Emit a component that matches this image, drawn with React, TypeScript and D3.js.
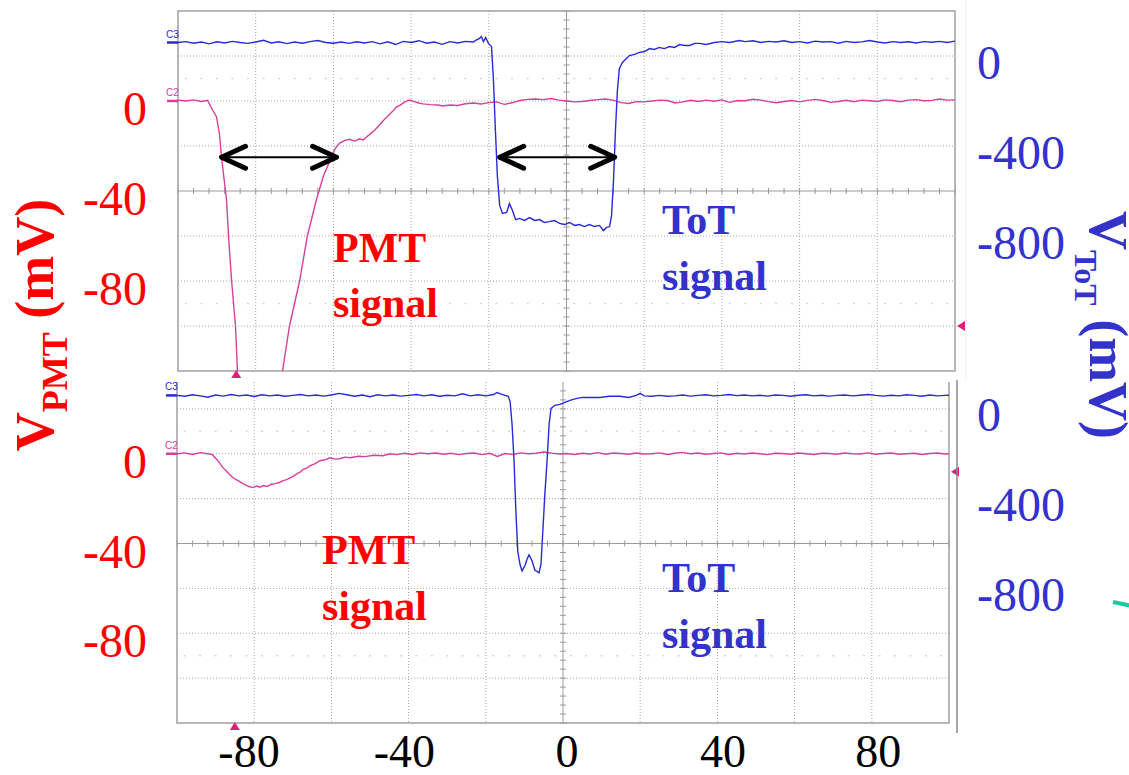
import React from "react";
import * as d3 from "d3";

type P = [number, number];

// time axis (ns) tick labels and voltage tick labels
const timeTicks = [-80, -40, 0, 40, 80];
const pmtTicks = [0, -40, -80];
const totTicks = [0, -400, -800];

// Top panel: PMT signal (mV) vs time (ns)
const topPmt: P[] = [
  [-100, 0.4], [-98, 0], [-96, 0.5], [-94, -0.2], [-92.4, 0.3], [-91.1, -4], [-90.1, -7], [-89.3, -15],
  [-88.8, -25], [-87.5, -44], [-87.0, -60], [-86.2, -80], [-85.2, -100], [-84.7, -120], [-84, -135],
  [-80, -150], [-76, -148], [-73.1, -120], [-71.3, -100], [-68.7, -80], [-66.7, -60], [-64.4, -44],
  [-62.5, -33], [-60.5, -25], [-59.5, -21], [-58.4, -18.7], [-57, -17.5], [-55.9, -17], [-54.5, -17.8],
  [-53.3, -16.8], [-52.3, -17.3], [-51.5, -16], [-50.4, -14.5], [-49.4, -13], [-48.3, -11], [-47.3, -9],
  [-46.5, -7.5], [-45.6, -6], [-44.7, -4.5], [-43.8, -2.7], [-42.8, -1.8], [-41.7, -0.5], [-40.8, 0.3],
  [-40.2, 0.4], [-39, -0.4], [-38, -0.9], [-37, -1.3], [-35, -1.6], [-33, -1.8], [-31.9, -2.2], [-30, -1.8],
  [-28, -2], [-26, -1.2], [-24, -0.9], [-22, -1.3], [-20, -0.7], [-18, -0.4], [-16, -1.5], [-14, -0.8],
  [-12, 0.2], [-10, 0.7], [-8, 0.9], [-6, 0.6], [-4, 1.1], [-2, 0.4], [0, 0], [2, -0.4], [4, -0.2], [6, 0.2],
  [8, 0.6], [10, 0.9], [12, 0.4], [14, -0.7], [16, -1.1], [18, -0.3], [20, -0.4], [22, 0], [24, 0.4], [26, 0.2],
  [28, -0.9], [30, -0.4], [32, 0.3], [34, -0.2], [36, 0.4], [38, -0.1], [40, 0.5], [42, -0.6], [44, 0.2],
  [46, 0.1], [48, 0.8], [50, 0.4], [52, -0.3], [54, -0.8], [56, -0.2], [58, 0.2], [60, -0.4], [62, 0.3],
  [64, 0.7], [66, 0.2], [68, -0.6], [70, -0.2], [72, 0.3], [74, -0.3], [76, 0.4], [78, 0.1], [80, -0.2],
  [82, 0.5], [84, 0.2], [86, -0.3], [88, 0.4], [90, 0.6], [92, 0.1], [94, 0.3], [96, 0.9], [98, 0.4], [100, 0.5],
];

// Top panel: ToT signal (mV) vs time (ns)
const topTot: P[] = [
  [-100, 0], [-98, 4], [-96, -3], [-94, 2], [-92, -6], [-90, 3], [-88, -2], [-86, 5], [-84, 0], [-82, -4],
  [-80, 2], [-78, 10], [-76, -2], [-74, 3], [-72, -5], [-70, 2], [-68, -3], [-66, 4], [-64, 9], [-62, 0],
  [-60, -3], [-58, 2], [-56, -4], [-54, 3], [-52, -2], [-50, 4], [-48, -6], [-46, 3], [-44, -9], [-42, 5],
  [-40, 0], [-38, 8], [-36, -3], [-34, 2], [-32, -8], [-30, 4], [-28, -2], [-26, 5], [-24, 2], [-23.4, 9],
  [-22.4, 18], [-21.9, 27], [-21.4, 4], [-20.8, 22], [-20.1, -4], [-19.3, -18], [-18.8, -169], [-18.3, -391],
  [-17.8, -591], [-17.2, -724], [-16.5, -760], [-15.4, -755], [-14.7, -716], [-13.9, -747], [-13.1, -787],
  [-12.1, -782], [-10.8, -791], [-9.5, -778], [-8.2, -791], [-6.9, -787], [-5.7, -800], [-4.4, -796],
  [-3.1, -791], [-1.8, -804], [-0.5, -809], [0.8, -800], [2.1, -813], [3.3, -809], [4.6, -818], [5.9, -809],
  [7.2, -818], [8.5, -813], [9.5, -836], [10.3, -822], [11.1, -818], [11.6, -769], [12.1, -613], [12.6, -391],
  [13.1, -213], [13.6, -116], [14.4, -89], [15.4, -71], [16.2, -58], [17.5, -53], [18.8, -44], [20.1, -40],
  [21.4, -27], [22.6, -31], [23.9, -22], [25.2, -27], [26.5, -18], [27.8, -22], [29.1, -9], [30.4, -13],
  [31.7, -13], [33, -4], [34.2, -4], [36, -9], [38, 0], [40, 4], [42, 0], [44.5, 9], [46, 4], [48, 8], [50, 0],
  [52, 5], [54, 2], [56, 8], [58, 0], [60, 4], [62, -2], [64, 6], [66, 2], [68, 4], [70, -3], [72, 5], [74, 0],
  [76, 3], [78, 9], [80, 2], [82, -2], [84, 4], [86, 0], [88, 3], [90, -2], [92, 4], [94, 1], [96, 5], [98, 0],
  [100, 6],
];

// Bottom panel: PMT signal (mV)
const botPmt: P[] = [
  [-100, 0], [-98, 0.4], [-96, -0.3], [-94, 0.5], [-92, 0], [-90.9, -0.3], [-89.4, -3.1], [-88.1, -6.2],
  [-86.8, -8.5], [-85.5, -10.7], [-84.2, -12], [-82.9, -13.3], [-81.6, -14.5], [-80.3, -15.1], [-79.4, -14.4],
  [-78.5, -14.9], [-77.6, -14.2], [-76.7, -14.6], [-75.6, -13.6], [-74.6, -13.3], [-73.5, -12.8], [-72.5, -12],
  [-71.6, -11.5], [-70.7, -10.7], [-69.8, -10], [-68.9, -8.9], [-68.1, -8.2], [-67.4, -7.1], [-66.4, -6.4],
  [-65.5, -5.3], [-64.2, -4.4], [-63.0, -3.1], [-61.7, -2.7], [-60.4, -1.8], [-59.1, -2.4], [-57.8, -2.2],
  [-56.5, -1.5], [-55.2, -1.8], [-53, -1.1], [-51.3, -1.3], [-49, -0.7], [-46.6, -0.9], [-44.8, 0], [-43, -0.4],
  [-41, 0.2], [-39, -0.3], [-37, 0.4], [-35, 0], [-33, 0.3], [-31, -0.2], [-29, 0.2], [-27, -0.4], [-25, 0.1],
  [-23, 0.3], [-21, -0.4], [-19, 0.2], [-17, -1.2], [-15, 0.1], [-13, -0.3], [-11, 0.4], [-9, 0], [-7, 0.2],
  [-5, 0.8], [-3, 0.3], [-1, -0.1], [1, 0.1], [3, -0.3], [5, 0.2], [7, -0.1], [9, 0.5], [11, -0.2], [13, 0.3],
  [15, 0.1], [17, -0.2], [19, 0.3], [21, -0.1], [23, 0], [25, 0.4], [27, -0.3], [29, 0.2], [31, 0.6], [33, 0],
  [35, 0.3], [37, -0.2], [39, 0.1], [41, 0.4], [43, -0.3], [45, 0.2], [47, -0.1], [49, 0.3], [51, 0], [53, -0.4],
  [55, 0.2], [57, 0.1], [59, -0.2], [61, 0.3], [63, 0], [65, -0.3], [67, 0.2], [69, 0.1], [71, -0.2], [73, 0.3],
  [75, 0], [77, -0.1], [79, 0.4], [81, -0.2], [83, 0.1], [85, 0.3], [87, -0.2], [89, 0], [91, 0.2], [93, -0.3],
  [95, 0.1], [97, 0.3], [99, -0.1], [100, 0],
];

// Bottom panel: ToT signal (mV)
const botTot: P[] = [
  [-100, 0], [-98, -4], [-96, 3], [-94, -2], [-92, -8], [-90, 2], [-88, -3], [-86, 4], [-84, -2], [-82, 2],
  [-80, -5], [-78, 3], [-76, -2], [-74, 2], [-72, -4], [-70, 0], [-68, 4], [-66, -2], [-64, 2], [-62, -3],
  [-60, 2], [-58, 9], [-56, 3], [-54, -4], [-52, 2], [-50, -6], [-48, 3], [-46, -2], [-44, 2], [-42, -3],
  [-40, 0], [-38, 4], [-36, -2], [-34, 3], [-32, -4], [-30, 1], [-28, -2], [-26, 7], [-24, -2], [-22, 3],
  [-20, -2], [-18, 4], [-17.1, 13], [-16, 6], [-15, 0], [-14.2, -4], [-13.7, -27], [-13.2, -129], [-12.7, -284],
  [-12.2, -520], [-11.7, -698], [-11.1, -756], [-10.6, -782], [-9.8, -756], [-9.3, -729], [-8.8, -711],
  [-8.0, -738], [-7.3, -778], [-6.2, -791], [-5.7, -751], [-5.2, -596], [-4.7, -440], [-4.1, -284],
  [-3.6, -129], [-3.1, -58], [-2.1, -44], [-0.8, -40], [0.5, -31], [1.8, -22], [3.6, -13], [5, -9], [7, -9],
  [9.6, -9], [12, -4], [14.8, -4], [17, -9], [19, 0], [20, 9], [21, -2], [23, -4], [25, 0], [27, -4], [29, -2],
  [31, 2], [33, -3], [35, 0], [37, 3], [39, -2], [41, 0], [43, 4], [45, -1], [47, 2], [49, -2], [51, 1], [53, -3],
  [55, 2], [57, 0], [59, -4], [61, 1], [63, 3], [65, -2], [67, 1], [69, -3], [71, 0], [73, 2], [75, -2], [77, 1],
  [79, 4], [81, 0], [83, -3], [85, 1], [87, -2], [89, 3], [91, 0], [93, -4], [95, 2], [97, -2], [99, 0], [100, 1],
];

// width arrows: [t start, t end, level mV on PMT scale]
const widthArrows: [number, number, number][] = [
  [-88.8, -59.2, -25],
  [-17.2, 12.4, -25],
];
// trigger position (ns) and trigger levels (mV) for top / bottom
const triggerTime = -85;
const triggerLevels = [-100, -8];

const RED = "#ff0000";
const BLUE = "#3333cc";
const PINK = "#d4409c";
const TRACE_BLUE = "#2a2ad6";
const SERIF = "'Liberation Serif', 'Times New Roman', serif";

interface PanelProps {
  id: string;
  x0: number; x1: number; y0: number; y1: number; visTop: number;
  pmt: P[]; tot: P[]; trigLevel: number; showTopBorder: boolean;
}

function Panel({ id, x0, x1, y0, y1, visTop, pmt, tot, trigLevel, showTopBorder }: PanelProps) {
  const x = d3.scaleLinear().domain([-100, 100]).range([x0, x1]);
  const yR = d3.scaleLinear().domain([-120, 40]).range([y1, y0]);
  const yB = d3.scaleLinear().domain([-1460, 140]).range([y1, y0]);
  const lineR = d3.line<P>().x((d) => x(d[0])).y((d) => yR(d[1]));
  const lineB = d3.line<P>().x((d) => x(d[0])).y((d) => yB(d[1]));
  const vLines = d3.range(-80, 81, 20);
  const hLines = d3.range(-100, 21, 20);
  const xMinor = d3.range(-100, 100.01, 4);
  const yMinor = d3.range(-120, 40.01, 4).filter((v) => yR(v) >= visTop);
  const cx = x(0);
  const cy = yR(-40);
  const faintRows = [10, -90];
  const faintX = d3.range(-98, 100, 4);
  return (
    <g>
      <defs>
        <clipPath id={id}>
          <rect x={x0} y={visTop} width={x1 - x0} height={y1 - visTop} />
        </clipPath>
      </defs>
      {/* grid */}
      {vLines.filter((v) => v !== 0).map((v) => (
        <line key={"v" + v} x1={x(v)} x2={x(v)} y1={visTop} y2={y1} stroke="#a8a8a8" strokeWidth={1} strokeDasharray="1,2" />
      ))}
      {hLines.filter((v) => v !== -40).map((v) => (
        <line key={"h" + v} x1={x0} x2={x1} y1={yR(v)} y2={yR(v)} stroke="#a8a8a8" strokeWidth={1} strokeDasharray="1,2" />
      ))}
      {faintRows.map((r) => faintX.map((t) => (
        <line key={"f" + r + t} x1={x(t) - 1} x2={x(t) + 1} y1={yR(r)} y2={yR(r)} stroke="#d6d6d6" strokeWidth={1.5} />
      )))}
      <line x1={cx} x2={cx} y1={visTop} y2={y1} stroke="#9a9a9a" strokeWidth={1} />
      <line x1={x0} x2={x1} y1={cy} y2={cy} stroke="#9a9a9a" strokeWidth={1} />
      {xMinor.map((t) => (
        <line key={"xm" + t} x1={x(t)} x2={x(t)} y1={cy - 3} y2={cy + 3} stroke="#9a9a9a" strokeWidth={1} />
      ))}
      {yMinor.map((v) => (
        <line key={"ym" + v} x1={cx - 3} x2={cx + 3} y1={yR(v)} y2={yR(v)} stroke="#9a9a9a" strokeWidth={1} />
      ))}
      {/* frame */}
      {showTopBorder ? (
        <rect x={x0} y={y0} width={x1 - x0} height={y1 - y0} fill="none" stroke="#a0a0a0" strokeWidth={1.5} />
      ) : (
        <path d={`M${x0},${visTop}V${y1}H${x1}V${visTop}`} fill="none" stroke="#a0a0a0" strokeWidth={1.5} />
      )}
      {/* traces */}
      <g clipPath={`url(#${id})`}>
        <path d={lineR(pmt) || ""} fill="none" stroke={PINK} strokeWidth={1.4} />
        <path d={lineB(tot) || ""} fill="none" stroke={TRACE_BLUE} strokeWidth={1.4} />
      </g>
      {/* channel markers */}
      <text x={x0 - 12} y={yB(0) - 5} fontSize={10} fontFamily="Arial, sans-serif" fill={TRACE_BLUE}>C3</text>
      <line x1={x0 - 11} x2={x0} y1={yB(0)} y2={yB(0)} stroke={TRACE_BLUE} strokeWidth={2.5} />
      <text x={x0 - 12} y={yR(0) - 5} fontSize={10} fontFamily="Arial, sans-serif" fill={PINK}>C2</text>
      <line x1={x0 - 11} x2={x0} y1={yR(0)} y2={yR(0)} stroke={PINK} strokeWidth={2.5} />
      {/* trigger markers */}
      <path d={`M${x(triggerTime)},${y1 - 1}l-5,8h10z`} fill="#e0207a" />
      <path d={`M${x1 + 2},${yR(trigLevel)}l8,-5v10z`} fill="#e0207a" />
      {/* tick labels */}
      {pmtTicks.map((v) => (
        <text key={"p" + v} x={147} y={yR(v) + 24} textAnchor="end" fontSize={48} fontFamily={SERIF} fill={RED}>{String(v)}</text>
      ))}
      {totTicks.map((v) => (
        <text key={"t" + v} x={977} y={yB(v) + 36} textAnchor="start" fontSize={48} fontFamily={SERIF} fill={BLUE}>{String(v)}</text>
      ))}
    </g>
  );
}

function Arrow({ xa, xb, y }: { xa: number; xb: number; y: number }) {
  return (
    <g stroke="#000" fill="none" strokeLinecap="round" strokeLinejoin="round">
      <line x1={xa + 3} x2={xb - 3} y1={y} y2={y} strokeWidth={2} />
      <path d={`M${xa + 24},${y - 11}L${xa},${y}L${xa + 24},${y + 11}`} strokeWidth={5} />
      <path d={`M${xb - 24},${y - 11}L${xb},${y}L${xb - 24},${y + 11}`} strokeWidth={5} />
    </g>
  );
}

export default function App() {
  const top = { x0: 178, x1: 955, y0: 11, y1: 371 };
  const bot = { x0: 177, x1: 949, y0: 364, y1: 723 };
  const xTop = d3.scaleLinear().domain([-100, 100]).range([top.x0, top.x1]);
  const yRedTop = d3.scaleLinear().domain([-120, 40]).range([top.y1, top.y0]);
  return (
    <svg width={1129} height={775} style={{ position: "absolute", left: 0, top: 0, background: "#fff" }}>
      <rect x={0} y={0} width={1129} height={775} fill="#fff" />
      {/* faint outer box of the top screenshot */}
      <line x1={966} x2={966} y1={0} y2={380} stroke="#f0f0f0" strokeWidth={1} />
      <Panel id="clipTop" {...top} visTop={top.y0} pmt={topPmt} tot={topTot} trigLevel={triggerLevels[0]} showTopBorder={true} />
      <Panel id="clipBot" {...bot} visTop={382} pmt={botPmt} tot={botTot} trigLevel={triggerLevels[1]} showTopBorder={false} />
      <line x1={957} x2={957} y1={380} y2={733} stroke="#8a8a8a" strokeWidth={1.5} />
      {widthArrows.map((a, i) => (
        <Arrow key={i} xa={xTop(a[0])} xb={xTop(a[1])} y={yRedTop(a[2])} />
      ))}
      {/* annotations */}
      <g fontFamily={SERIF} fontWeight="bold" fontSize={42}>
        <text x={333} y={262} fill={RED}>PMT</text>
        <text x={333} y={317} fill={RED}>signal</text>
        <text x={322} y={564} fill={RED}>PMT</text>
        <text x={322} y={620} fill={RED}>signal</text>
        <text x={662} y={234} fill={BLUE}>ToT</text>
        <text x={662} y={290} fill={BLUE}>signal</text>
        <text x={662} y={592} fill={BLUE}>ToT</text>
        <text x={662} y={648} fill={BLUE}>signal</text>
      </g>
      {/* x tick labels */}
      {timeTicks.map((t) => {
        const digits = String(Math.abs(t)).length;
        return (
          <text key={t} x={xTop(t) + digits * 12} y={767} textAnchor="end" fontSize={46} fontFamily={SERIF} fill="#000">{String(t)}</text>
        );
      })}
      {/* axis titles */}
      <text transform="translate(53,325) rotate(-90)" textAnchor="middle" fontFamily={SERIF} fontWeight="bold" fill={RED}>
        <tspan fontSize={54}>V</tspan>
        <tspan fontSize={36} dy={14}>PMT</tspan>
        <tspan fontSize={54} dy={-14}> (mV)</tspan>
      </text>
      <text transform="translate(1090,325) rotate(90)" textAnchor="middle" fontFamily={SERIF} fontWeight="bold" fill={BLUE}>
        <tspan fontSize={54}>V</tspan>
        <tspan fontSize={32} dy={15}>ToT</tspan>
        <tspan fontSize={54} dy={-15}> (mV)</tspan>
      </text>
      {/* teal decoration at right edge */}
      <line x1={1113} y1={602} x2={1132} y2={606} stroke="#1fc8a0" strokeWidth={4} />
    </svg>
  );
}
